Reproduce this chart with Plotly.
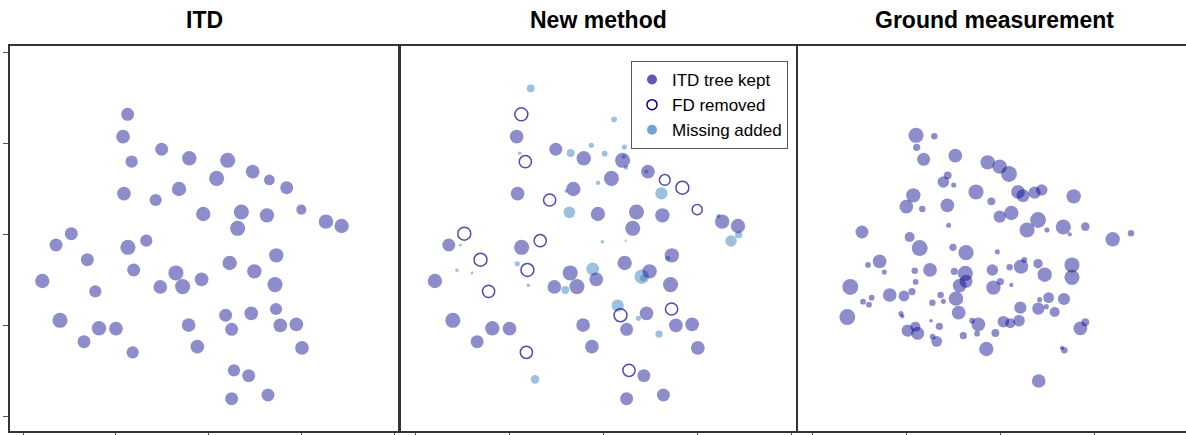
import plotly.graph_objects as go

# ---------------- data (tick units) ----------------
itd_x = [1.126, 1.076, 1.493, 1.791, 2.205, 1.169, 2.475, 2.086, 2.655, 2.842,
         1.680, 1.086, 1.428, 3.000, 1.942, 2.353, 2.629, 3.266, 3.435, 2.313,
         0.518, 0.353, 1.129, 1.327, 0.691, 2.730, 2.227, 1.191, 1.647, 2.493,
         1.924, 0.205, 1.478, 1.719, 2.716, 0.777, 2.727, 2.183, 2.460, 0.396,
         0.817, 1.000, 1.784, 2.248, 2.773, 2.946, 0.655, 1.878, 3.007, 1.180,
         2.273, 2.432, 2.248, 2.640]
itd_y = [3.322, 3.077, 2.938, 2.839, 2.817, 2.802, 2.692, 2.619, 2.601, 2.516,
         2.502, 2.451, 2.381, 2.275, 2.227, 2.249, 2.212, 2.143, 2.095, 2.070,
         2.011, 1.886, 1.861, 1.934, 1.725, 1.773, 1.689, 1.612, 1.579, 1.597,
         1.509, 1.491, 1.425, 1.429, 1.451, 1.377, 1.183, 1.114, 1.136, 1.059,
         0.971, 0.967, 1.007, 0.960, 1.004, 1.015, 0.824, 0.769, 0.755, 0.707,
         0.509, 0.451, 0.198, 0.238]
itd_size = [12, 12.7, 12, 13.3, 14, 11.3, 12.7, 14, 10, 12,
            13.3, 12.7, 11.3, 9.3, 13.3, 14, 13.3, 13.3, 13.3, 14,
            12, 12, 14, 11.3, 12, 13.3, 13.3, 12, 14, 13.3,
            12.7, 13.3, 12.7, 14, 14, 11.3, 11.3, 12, 12.7, 14,
            13.3, 12.7, 12.7, 12, 12.7, 12.7, 12, 12.7, 12.7, 11.3,
            11.3, 12, 12, 12]
# 1 = false detection removed by the new method
itd_removed = [1, 0, 0, 0, 0, 1, 0, 0, 1, 1,
               0, 0, 1, 1, 0, 0, 0, 0, 0, 0,
               1, 0, 0, 1, 1, 0, 0, 1, 0, 0,
               0, 0, 0, 0, 0, 1, 1, 1, 0, 0,
               0, 0, 0, 0, 0, 0, 0, 0, 0, 1,
               1, 0, 0, 0]

added_x = [1.226, 2.114, 1.872, 2.224, 1.652, 2.014, 1.108, 2.217, 2.242, 2.458,
           1.943, 1.602, 2.618, 1.638, 3.226, 3.361, 3.442, 1.989, 2.238, 0.476,
           2.686, 1.083, 0.440, 0.600, 1.886, 2.409, 2.426, 1.201, 1.595, 2.153,
           2.373, 2.593, 1.272]
added_y = [3.608, 3.267, 2.982, 2.963, 2.897, 2.890, 2.894, 2.857, 2.736, 2.692,
           2.568, 2.480, 2.454, 2.245, 2.205, 1.930, 2.000, 1.923, 1.934, 1.883,
           1.740, 1.681, 1.608, 1.579, 1.623, 1.538, 1.520, 1.443, 1.392, 1.220,
           1.081, 0.908, 0.410]
added_size = [7.3, 5.3, 4.7, 4.7, 7.3, 5.3, 3.3, 4, 4, 4,
              4, 3.3, 11.3, 10.7, 4, 10.7, 6.7, 3.3, 2, 2.7,
              4.7, 4.7, 3.3, 2.7, 12, 13.3, 6, 3.3, 7.3, 11.3,
              4.7, 6.7, 8]

ground_x = [1.103, 1.298, 1.110, 1.184, 1.521, 1.865, 1.993, 2.092, 1.440, 1.394,
            1.504, 1.741, 2.188, 2.241, 2.365, 2.440, 2.780, 1.074, 1.000, 1.170,
            1.436, 1.904, 1.993, 2.117, 2.401, 2.284, 2.496, 2.670, 2.738, 2.904,
            3.195, 3.390, 1.450, 0.528, 1.035, 1.142, 1.496, 1.635, 1.968, 0.716,
            0.592, 0.766, 1.089, 1.252, 1.511, 1.628, 1.635, 1.567, 1.915, 2.099,
            2.220, 2.255, 2.401, 2.472, 2.762, 2.762, 2.000, 2.117, 1.926, 0.404,
            1.099, 0.823, 0.975, 1.060, 0.539, 0.631, 0.603, 1.365, 1.394, 1.277,
            1.528, 1.557, 2.514, 2.677, 2.418, 2.213, 2.404, 2.489, 2.578, 0.372,
            0.943, 0.957, 1.262, 1.699, 1.766, 1.351, 1.752, 2.032, 2.106, 2.199,
            1.947, 2.851, 2.904, 1.014, 1.096, 1.121, 1.280, 1.323, 1.606, 1.851,
            2.656, 2.681, 2.408]
ground_y = [3.092, 3.081, 2.960, 2.828, 2.868, 2.795, 2.747, 2.667, 2.652, 2.579,
            2.546, 2.469, 2.469, 2.429, 2.462, 2.491, 2.421, 2.432, 2.308, 2.282,
            2.322, 2.366, 2.198, 2.238, 2.161, 2.051, 2.051, 2.084, 2.004, 2.088,
            1.949, 2.015, 2.103, 2.029, 1.974, 1.853, 1.861, 1.802, 1.813, 1.707,
            1.667, 1.590, 1.604, 1.612, 1.597, 1.575, 1.487, 1.440, 1.612, 1.641,
            1.648, 1.722, 1.681, 1.560, 1.667, 1.531, 1.484, 1.447, 1.418, 1.425,
            1.480, 1.337, 1.326, 1.374, 1.264, 1.308, 1.231, 1.337, 1.267, 1.253,
            1.297, 1.143, 1.308, 1.293, 1.286, 1.198, 1.187, 1.209, 1.150, 1.095,
            1.132, 1.103, 1.055, 1.055, 1.015, 0.993, 0.912, 1.044, 1.026, 1.055,
            0.919, 0.971, 1.037, 0.945, 0.989, 0.916, 0.879, 0.828, 0.890, 0.744,
            0.755, 0.729, 0.392]
ground_size = [14, 6, 6.7, 12, 12.7, 13.3, 13.3, 14.7, 7.3, 10.7,
               4.7, 14, 12.7, 12, 11.3, 10.7, 13.3, 13.3, 12.7, 6,
               12.7, 7.3, 11.3, 13.3, 14.7, 14, 4.7, 14, 4, 8,
               13.3, 6, 4.7, 12, 9.3, 14.7, 6.7, 14, 4.7, 12.7,
               5.3, 4.7, 6, 12.7, 6.7, 14, 12, 12.7, 10.7, 6,
               13.3, 5.3, 8.7, 13.3, 14, 14, 6.7, 4, 13.3, 14.7,
               5.3, 12.7, 10, 6.7, 5.3, 5.3, 5.3, 6, 4.7, 6,
               13.3, 12.7, 10, 11.3, 4.7, 11.3, 11.3, 4.7, 9.3, 14.7,
               4.7, 4, 3.3, 5.3, 12.7, 6.7, 5.3, 10.7, 9.3, 10.7,
               7.3, 12.7, 7.3, 11.3, 9.3, 12, 5.3, 10, 6.7, 13.3,
               4, 6, 12.7]

panel_titles = ["ITD", "New method", "Ground measurement"]
legend_names = ["ITD tree kept", "FD removed", "Missing added"]
tick_vals = [0, 1, 2, 3, 4]

# ---------------- styles ----------------
C_TREE = "rgba(0,0,139,0.64)"
C_ADD = "rgba(60,130,190,0.72)"
C_FD = "#00008b"
FRAME = "#333333"
SCALE = 1.08  # display scale for marker diameters


def sz(values):
    return [v * SCALE for v in values]


kept = [i for i, r in enumerate(itd_removed) if r == 0]
rem = [i for i, r in enumerate(itd_removed) if r == 1]

fig = go.Figure()

# Panel 1: ITD
fig.add_trace(go.Scatter(x=itd_x, y=itd_y, mode="markers", xaxis="x", yaxis="y",
                         marker=dict(size=sz(itd_size), color=C_TREE, line=dict(width=0)),
                         showlegend=False, hoverinfo="skip"))

# Panel 2: New method
fig.add_trace(go.Scatter(x=added_x, y=added_y, mode="markers", xaxis="x2", yaxis="y2",
                         marker=dict(size=sz(added_size), color=C_ADD, line=dict(width=0)),
                         showlegend=False, hoverinfo="skip"))
fig.add_trace(go.Scatter(x=[itd_x[i] for i in kept], y=[itd_y[i] for i in kept],
                         mode="markers", xaxis="x2", yaxis="y2",
                         marker=dict(size=sz([itd_size[i] for i in kept]), color=C_TREE,
                                     line=dict(width=0)),
                         showlegend=False, hoverinfo="skip"))
fig.add_trace(go.Scatter(x=[itd_x[i] for i in rem], y=[itd_y[i] for i in rem],
                         mode="markers", xaxis="x2", yaxis="y2",
                         marker=dict(size=sz([itd_size[i] for i in rem]), symbol="circle-open",
                                     color=C_FD, line=dict(width=1.5, color=C_FD)),
                         showlegend=False, hoverinfo="skip"))

# Panel 3: Ground measurement
fig.add_trace(go.Scatter(x=ground_x, y=ground_y, mode="markers", xaxis="x3", yaxis="y3",
                         marker=dict(size=sz(ground_size), color=C_TREE, line=dict(width=0)),
                         showlegend=False, hoverinfo="skip"))

# Legend entries
leg_styles = [dict(size=10, color=C_TREE, line=dict(width=0)),
              dict(size=10, symbol="circle-open", color=C_FD, line=dict(width=1.5, color=C_FD)),
              dict(size=10, color=C_ADD, line=dict(width=0))]
for name, mk in zip(legend_names, leg_styles):
    fig.add_trace(go.Scatter(x=[None], y=[None], mode="markers", xaxis="x2", yaxis="y2",
                             name=name, marker=mk, showlegend=True))

W, H = 1186, 435
ML, MR, MT, MB = 10, 0, 46, 4
pw = W - ML - MR
ph = H - MT - MB


def dom(a, b):
    return [(a - ML) / pw, (b - ML) / pw]


xcommon = dict(showline=True, linecolor=FRAME, linewidth=1.5, mirror=True,
               ticks="outside", ticklen=5, tickwidth=1, tickcolor="#555555",
               tickvals=tick_vals, showticklabels=False, showgrid=False,
               zeroline=False, fixedrange=True)
yrange = [-0.1575, 4.073]

fig.update_layout(
    width=W, height=H,
    margin=dict(l=ML, r=MR, t=MT, b=MB, pad=0),
    paper_bgcolor="white", plot_bgcolor="white",
    font=dict(family="Liberation Sans, Arial, sans-serif", color="black"),
    xaxis=dict(domain=dom(10, 399), range=[-0.1435, 4.054], anchor="y", **xcommon),
    xaxis2=dict(domain=dom(400, 796), range=[-0.167, 4.053], anchor="y2", **xcommon),
    xaxis3=dict(domain=dom(798, 1186), range=[-0.1525, 3.975], anchor="y3", **xcommon),
    yaxis=dict(domain=[0, 1], range=yrange, anchor="x", showline=True, linecolor=FRAME,
               linewidth=1.5, mirror=True, ticks="outside", ticklen=5, tickwidth=1,
               tickcolor="#555555", tickvals=tick_vals, showticklabels=False,
               showgrid=False, zeroline=False, fixedrange=True),
    yaxis2=dict(domain=[0, 1], range=yrange, anchor="x2", showline=True, linecolor=FRAME,
                linewidth=1.5, mirror=True, ticks="", showticklabels=False,
                showgrid=False, zeroline=False, fixedrange=True),
    yaxis3=dict(domain=[0, 1], range=yrange, anchor="x3", showline=True, linecolor=FRAME,
                linewidth=1.5, mirror=False, ticks="", showticklabels=False,
                showgrid=False, zeroline=False, fixedrange=True),
    legend=dict(x=(631 - ML) / pw, y=1 - (61 - MT) / ph, xanchor="left", yanchor="top",
                bgcolor="white", bordercolor="#555555", borderwidth=1,
                font=dict(size=17, color="black"), tracegroupgap=0),
)

centers = [(10 + 399) / 2, 598, 994]
for t, cx in zip(panel_titles, centers):
    fig.add_annotation(text="<b>%s</b>" % t, x=(cx - ML) / pw, y=1 + (MT - 20) / ph,
                       xref="paper", yref="paper", xanchor="center", yanchor="middle",
                       showarrow=False, font=dict(size=23, color="black"))

fig.write_html("out.html", config={"displayModeBar": False},
               post_script="document.body.style.margin='0';document.body.style.overflow='hidden';")
